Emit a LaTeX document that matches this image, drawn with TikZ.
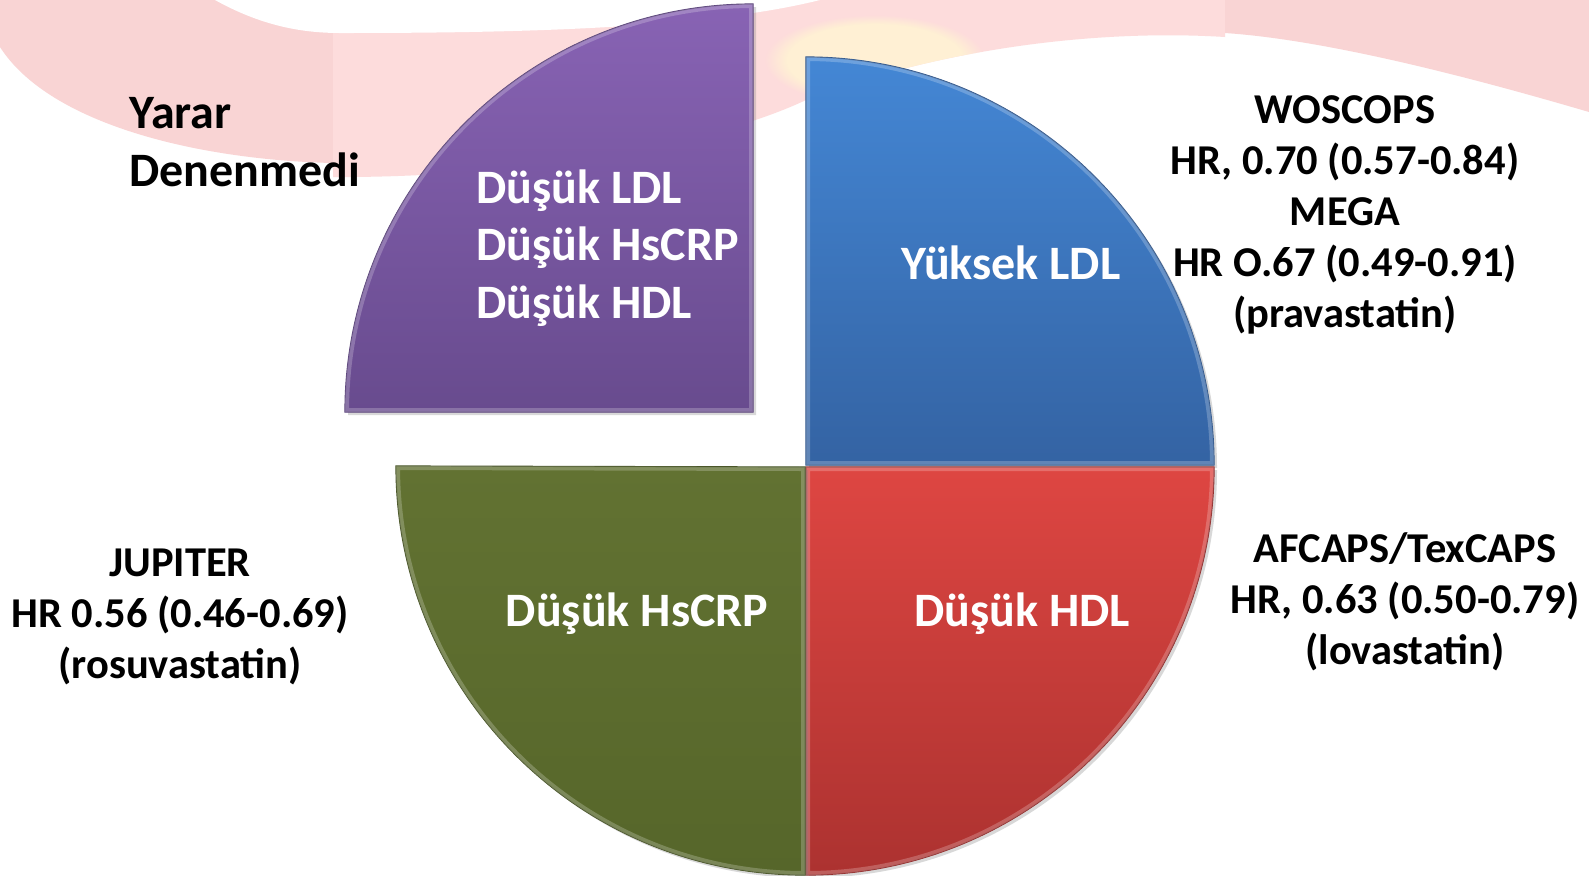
\documentclass[tikz,border=0pt]{standalone}
\usepackage{fontspec}
\setmainfont{Carlito}
\usetikzlibrary{shadows,fadings}
\definecolor{dotpink}{RGB}{249,212,212}
\definecolor{bandpink}{RGB}{253,220,220}
\definecolor{yelt}{RGB}{255,240,212}
\definecolor{purT}{RGB}{136,99,180}
\definecolor{purB}{RGB}{104,75,142}
\definecolor{bluT}{RGB}{68,135,213}
\definecolor{bluB}{RGB}{52,99,163}
\definecolor{redT}{RGB}{222,70,66}
\definecolor{redB}{RGB}{172,50,48}
\definecolor{grnT}{RGB}{98,114,50}
\definecolor{grnB}{RGB}{86,102,42}
\begin{document}
\begin{tikzpicture}[x=0.5pt,y=0.5pt,
  slice/.style={drop shadow={opacity=0.3,shadow xshift=1.5pt,shadow yshift=-1.5pt}},
  intxt/.style={text=white,font=\fontsize{24}{28.8}\selectfont\bfseries,inner sep=0pt},
  outtxt/.style={text=black,font=\fontsize{21.25}{25.5}\selectfont\bfseries,align=center,inner sep=0pt},
  hl/.style={white,opacity=0.22,line width=4pt}]
\useasboundingbox (0,0) rectangle (1589,-875);
% background
\fill[white] (0,0) rectangle (1589,-875);
\fill[dotpink] (0,0) -- (333,0) -- (333,-163) .. controls (200,-160) and (50,-125) .. (0,-47) -- cycle;
\fill[bandpink] (333,0) -- (1225,0) -- (1225,-37) .. controls (1080,-28) and (920,-55) .. (806,-100) .. controls (700,-150) and (500,-178) .. (333,-177) -- cycle;
\begin{scope}
\clip (333,0) -- (1225,0) -- (1225,-37) .. controls (1080,-28) and (920,-55) .. (806,-100) .. controls (700,-150) and (500,-178) .. (333,-177) -- cycle;
\fill[yelt,path fading=circle with fuzzy edge 20 percent] (875,-60) ellipse (110 and 45);
\end{scope}
\fill[white] (215,0) .. controls (260,-25) and (300,-33) .. (340,-33) .. controls (500,-33) and (700,-30) .. (820,0) -- cycle;
\fill[dotpink] (1225,0) -- (1589,0) -- (1589,-112) .. controls (1480,-80) and (1330,-40) .. (1225,-33) -- cycle;
% slices
\path[slice,top color=purT,bottom color=purB,draw=purB!85!black,line width=0.6pt]
  (753,-412) -- (345,-412) arc[start angle=180,end angle=90,radius=408] -- cycle;
\begin{scope}
\clip (753,-412) -- (345,-412) arc[start angle=180,end angle=90,radius=408] -- cycle;
\draw[hl] (753,-412) -- (345,-412) arc[start angle=180,end angle=90,radius=408] -- cycle;
\end{scope}
\path[slice,top color=bluT,bottom color=bluB,draw=bluB!85!black,line width=0.6pt]
  (806,-465) -- (806,-57) arc[start angle=90,end angle=0,radius=408] -- cycle;
\begin{scope}
\clip (806,-465) -- (806,-57) arc[start angle=90,end angle=0,radius=408] -- cycle;
\draw[hl] (806,-465) -- (806,-57) arc[start angle=90,end angle=0,radius=408] -- cycle;
\end{scope}
\path[slice,top color=redT,bottom color=redB,draw=redB!85!black,line width=0.6pt]
  (806,-467) -- (1214,-467) arc[start angle=0,end angle=-90,radius=408] -- cycle;
\begin{scope}
\clip (806,-467) -- (1214,-467) arc[start angle=0,end angle=-90,radius=408] -- cycle;
\draw[hl] (806,-467) -- (1214,-467) arc[start angle=0,end angle=-90,radius=408] -- cycle;
\end{scope}
\path[slice,top color=grnT,bottom color=grnB,draw=grnB!80!black,line width=0.6pt]
  (805,-467) -- (805,-875) arc[start angle=270,end angle=180,radius=409] -- cycle;
\begin{scope}
\clip (805,-467) -- (805,-875) arc[start angle=270,end angle=180,radius=409] -- cycle;
\draw[hl] (805,-467) -- (805,-875) arc[start angle=270,end angle=180,radius=409] -- cycle;
\end{scope}
% texts
\node[intxt,text=black,align=left,anchor=west] (yarar) at (129,-142) {Yarar\\Denenmedi};
\node[intxt,align=left,anchor=west] (purtxt) at (476,-248) {Düşük LDL\\Düşük HsCRP\\Düşük HDL};
\node[intxt] (blutxt) at (1011,-263) {Yüksek LDL};
\node[intxt] (redtxt) at (1022,-614) {Düşük HDL};
\node[intxt] (grntxt) at (637,-614) {Düşük HsCRP};
\node[outtxt] (wos) at (1345,-215) {WOSCOPS\\HR, 0.70 (0.57-0.84)\\MEGA\\HR O.67 (0.49-0.91)\\(pravastatin)};
\node[outtxt] (jup) at (180,-617) {JUPITER\\HR 0.56 (0.46-0.69)\\(rosuvastatin)};
\node[outtxt] (afc) at (1405,-602) {AFCAPS/TexCAPS\\HR, 0.63 (0.50-0.79)\\(lovastatin)};
\end{tikzpicture}
\end{document}
